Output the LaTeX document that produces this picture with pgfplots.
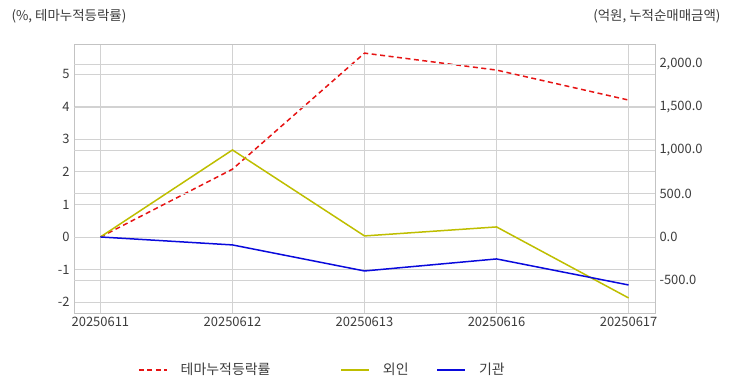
\documentclass[border=0pt]{standalone}
\usepackage{pgfplots}
\pgfplotsset{compat=1.18}
\usepackage{fontspec}
\setmainfont{Noto Sans CJK KR}
\definecolor{gridc}{RGB}{210,210,210}
\definecolor{framec}{RGB}{195,195,195}
\definecolor{txt}{RGB}{60,60,60}
\definecolor{redl}{RGB}{230,20,20}
\definecolor{yell}{RGB}{190,190,0}
\definecolor{bluel}{RGB}{10,10,220}
\pgfplotsset{
  base/.style={
    scale only axis, width=581bp, height=269bp,
    at={(74bp,79bp)}, anchor=south west,
    xmin=-0.2, xmax=4.2,
    axis line style={framec},
    major tick length=0pt,
    tick style={draw=none},
    ymajorgrids, grid style={gridc, line width=0.7bp},
    ticklabel style={font=\fontsize{13}{15}\selectfont, text=txt},
    /pgf/number format/assume math mode=true,
  }
}
\begin{document}
\begin{tikzpicture}
\path[use as bounding box] (0,0) rectangle (732bp,392bp);
\begin{axis}[base,
  xtick={0,1,2,3,4},
  xticklabels={20250611,20250612,20250613,20250616,20250617},
  xmajorgrids,
  ymin=-2.33, ymax=5.92,
  ytick={-2,-1,0,1,2,3,4,5},
  yticklabel style={xshift=-1bp},
  xticklabel style={yshift=-1bp},
  legend columns=3,
  legend style={draw=none, fill=none, font=\fontsize{14}{16}\selectfont, text=txt,
    at={(rel axis cs:0.105,-0.211)}, anchor=west,
    /tikz/column 1/.style={column sep=11bp},
    /tikz/column 3/.style={column sep=11bp},
    /tikz/column 5/.style={column sep=11bp},
    /tikz/column 2/.style={column sep=68bp},
    /tikz/column 4/.style={column sep=26bp},
  },
  legend image code/.code={\draw[#1] (0bp,0bp) -- (28bp,0bp);},
]
\addlegendimage{redl, line width=1.5bp, dash pattern=on 5bp off 3.5bp}
\addlegendentry{테마누적등락률}
\addlegendimage{yell, line width=1.5bp}
\addlegendentry{외인}
\addlegendimage{bluel, line width=1.5bp}
\addlegendentry{기관}
\addplot[redl, line width=1.5bp, dash pattern=on 5bp off 3.5bp] coordinates {(0,0) (1,2.08) (2,5.64) (3,5.12) (4,4.2)};
\end{axis}
\begin{axis}[base,
  axis y line*=right, axis x line=none,
  ymin=-879, ymax=2231,
  ytick={-500,0,500,1000,1500,2000},
  yticklabel style={xshift=1bp},
  /pgf/number format/.cd, fixed, fixed zerofill, precision=1, 1000 sep={,},
]
\addplot[yell, line width=1.5bp] coordinates {(0,0) (1,1006) (2,12) (3,116) (4,-705)};
\addplot[bluel, line width=1.5bp] coordinates {(0,0) (1,-92) (2,-393) (3,-254) (4,-555)};
\end{axis}
\node[anchor=west, font=\fontsize{13.5}{15}\selectfont, text=txt] at (8bp,376bp) {(\%, 테마누적등락률)};
\node[anchor=east, font=\fontsize{13.5}{15}\selectfont, text=txt] at (724bp,376bp) {(억원, 누적순매매금액)};
\end{tikzpicture}
\end{document}
